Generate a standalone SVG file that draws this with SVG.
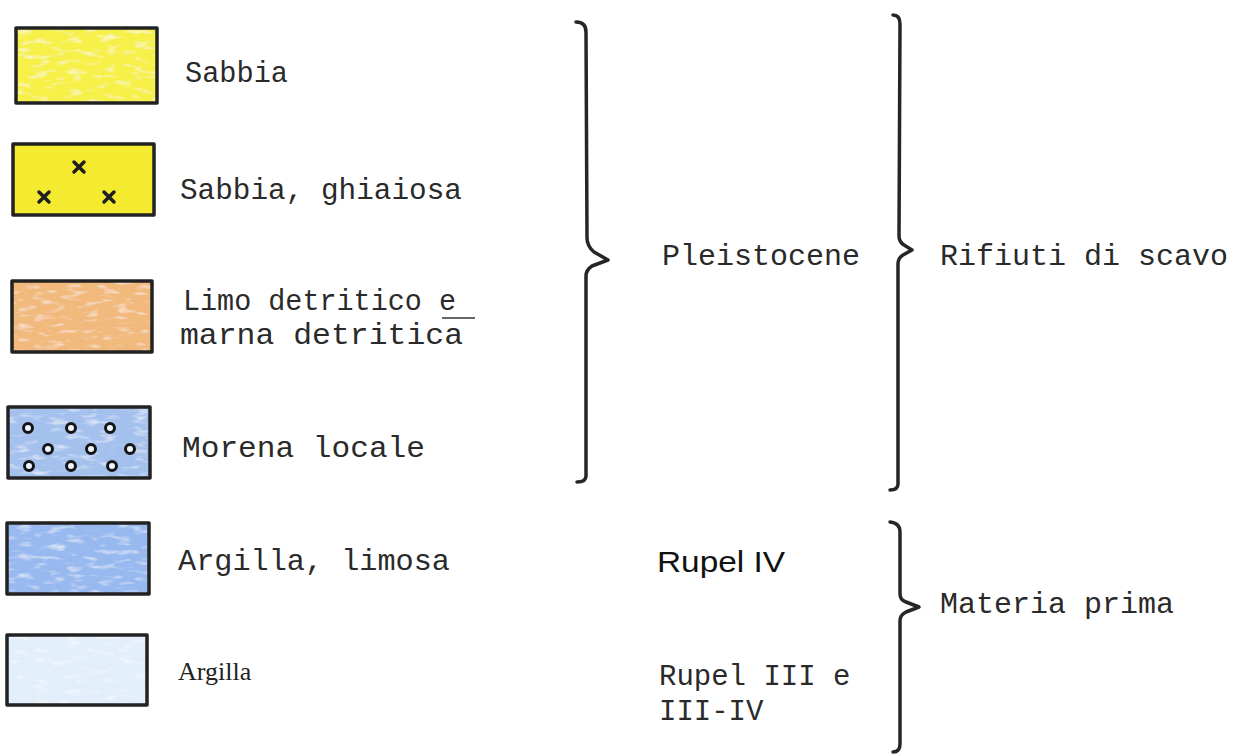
<svg xmlns="http://www.w3.org/2000/svg" width="1247" height="755" viewBox="0 0 1247 755">
<style>
.sw{fill:none;stroke:#222;stroke-width:3.5;stroke-linejoin:round}
.mono{font-family:"Liberation Mono","Courier New",monospace;font-size:29px;fill:#2a2a2a}
.monor{font-family:"Liberation Mono","Courier New",monospace;font-size:30px;fill:#2a2a2a}
.serif{font-family:"Liberation Serif","Times New Roman",serif;font-size:26px;fill:#222}
.sans{font-family:"Liberation Sans",Arial,sans-serif;font-size:30px;fill:#111}
.brace{fill:none;stroke:#262626;stroke-width:3.5;stroke-linecap:round;stroke-linejoin:round}
.xm{stroke:#1e1e1e;stroke-width:3.5;stroke-linecap:round}
.ring{fill:#eef4ff;stroke:#151515;stroke-width:3}
</style>
<defs>
<filter id="tex" x="0" y="0" width="1" height="1">
<feTurbulence type="fractalNoise" baseFrequency="0.06 0.2" numOctaves="2" seed="5" result="n"/>
<feColorMatrix in="n" type="matrix" values="0 0 0 0 1  0 0 0 0 1  0 0 0 0 1  0 0 0 -1.6 0.75" result="w"/>
<feComposite in="w" in2="SourceGraphic" operator="in" result="m"/>
<feMerge><feMergeNode in="SourceGraphic"/><feMergeNode in="m"/></feMerge>
</filter>
</defs>
<rect width="1247" height="755" fill="#fff"/>

<g id="sabbia">
<rect x="16" y="28" width="141" height="75" fill="#f6f04a" filter="url(#tex)"/>
<rect class="sw" x="16" y="28" width="141" height="75"/>
<text class="mono" x="185" y="82" textLength="103" lengthAdjust="spacingAndGlyphs">Sabbia</text>
</g>
<g id="sabbia-ghiaiosa">
<rect x="13" y="144" width="141" height="71" fill="#f4ea30"/>
<rect class="sw" x="13" y="144" width="141" height="71"/>
<path class="xm" d="M74 162l10 10M84 162l-10 10M39 192l10 10M49 192l-10 10M104 192l10 10M114 192l-10 10"/>
<text class="mono" x="180" y="199" textLength="282" lengthAdjust="spacingAndGlyphs">Sabbia, ghiaiosa</text>
</g>
<g id="limo">
<rect x="12" y="281" width="140" height="71" fill="#f1b97c" filter="url(#tex)"/>
<rect class="sw" x="12" y="281" width="140" height="71"/>
<text class="mono" x="183" y="310" textLength="273" lengthAdjust="spacingAndGlyphs">Limo detritico e</text>
<line x1="442" y1="318" x2="475" y2="318" stroke="#333" stroke-width="1.5"/>
<text class="mono" x="180" y="344" textLength="283" lengthAdjust="spacingAndGlyphs">marna detritica</text>
</g>
<g id="morena">
<rect x="8" y="407" width="142" height="71" fill="#a4c1ee" filter="url(#tex)"/>
<rect class="sw" x="8" y="407" width="142" height="71"/>
<circle class="ring" cx="28" cy="428" r="4.5"/><circle class="ring" cx="71" cy="428" r="4.5"/><circle class="ring" cx="110" cy="428" r="4.5"/>
<circle class="ring" cx="48" cy="449" r="4.5"/><circle class="ring" cx="91" cy="449" r="4.5"/><circle class="ring" cx="130" cy="449" r="4.5"/>
<circle class="ring" cx="29" cy="466" r="4.5"/><circle class="ring" cx="71" cy="466" r="4.5"/><circle class="ring" cx="112" cy="466" r="4.5"/>
<text class="mono" x="182" y="457" textLength="243" lengthAdjust="spacingAndGlyphs">Morena locale</text>
</g>
<g id="argilla-limosa">
<rect x="7" y="523" width="142" height="71" fill="#98b9ef" filter="url(#tex)"/>
<rect class="sw" x="7" y="523" width="142" height="71"/>
<text class="mono" x="178" y="570" textLength="272" lengthAdjust="spacingAndGlyphs">Argilla, limosa</text>
</g>
<g id="argilla">
<rect x="7" y="635" width="140" height="70" fill="#e2eefa" filter="url(#tex)"/>
<rect class="sw" x="7" y="635" width="140" height="70"/>
<text class="serif" x="178" y="680">Argilla</text>
</g>

<g id="labels">
<text class="monor" x="662" y="265">Pleistocene</text>
<text class="monor" x="940" y="265">Rifiuti di scavo</text>
<text class="sans" x="657" y="572" textLength="128" lengthAdjust="spacingAndGlyphs">Rupel IV</text>
<text class="mono" x="659" y="685">Rupel III e</text>
<text class="mono" x="659" y="720">III-IV</text>
<text class="monor" x="940" y="613">Materia prima</text>
</g>

<g id="connectors">
<path class="brace" d="M576 22Q586 22 586 32L587 238Q587 246 594 252L608 260L592 266Q586 270 586 276L586 476Q586 482 577 482"/>
<path class="brace" d="M893 15Q900 15 900 24L899 236Q899 242 904 245L912 250L903 255Q898 258 898 264L898 484Q898 490 890 490"/>
<path class="brace" d="M890 522Q900 523 900 532L900 594Q900 600 906 602L919 607L906 612Q900 615 900 621L900 744Q900 752 893 752"/>
</g>
</svg>
